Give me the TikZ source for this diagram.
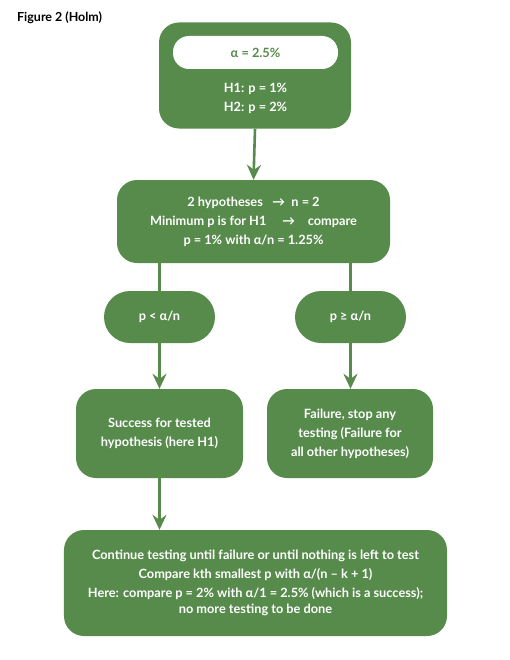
\documentclass[tikz,border=0pt]{standalone}
\usepackage{fontspec}
\setmainfont{Lato}
\usepackage{xcolor}
\usetikzlibrary{positioning, arrows.meta, calc}
\definecolor{holmgreen}{HTML}{578B4C}

\begin{document}
\begin{tikzpicture}[
  x=1bp, y=-1bp,
  greenbox/.style={
    rectangle, fill=holmgreen, draw=none, text=white,
    rounded corners=20bp, align=center, inner sep=0pt,
    font=\fontsize{12.8}{19}\selectfont\bfseries
  },
  pillbox/.style={
    greenbox, rounded corners=26bp
  },
  flow/.style={-{Stealth[length=15bp, width=14bp, inset=5bp]}, holmgreen, line width=2.6bp},
  link/.style={holmgreen, line width=2.6bp},
]
\useasboundingbox (0,0) rectangle (510,660);

%% ── Title ────────────────────────────────────────────────────────────────────
\node[anchor=west, inner sep=0pt, font=\fontsize{12.5}{14}\selectfont\bfseries] (title) at (17, 18) {Figure 2 (Holm)};

%% ── Start box ────────────────────────────────────────────────────────────────
\node[greenbox, minimum width=192bp, minimum height=106bp] (start) at (255, 75.5) {};
\node[rectangle, fill=white, rounded corners=16bp, minimum width=165bp,
      minimum height=33bp, inner sep=0pt, text=holmgreen,
      font=\fontsize{12.8}{19}\selectfont\bfseries] (alpha) at (255.5, 52.5) {α = 2.5\%};
\node[text=white, align=center, font=\fontsize{12.8}{19}\selectfont\bfseries] (hyps) at (255.5, 98) {%
  H1: p = 1\%\\
  H2: p = 2\%
};

%% ── Minimum p ────────────────────────────────────────────────────────────────
\node[greenbox, minimum width=273bp, minimum height=83bp] (minp) at (253.5, 221.5) {%
  2 hypotheses \enspace→\enspace n = 2\\
  Minimum p is for H1 \quad→\quad compare\\
  p = 1\% with α/n = 1.25\%
};

%% ── Decisions ────────────────────────────────────────────────────────────────
\node[pillbox, minimum width=111bp, minimum height=52bp] (lower) at (159.5, 317) {p < α/n};
\node[pillbox, minimum width=111bp, minimum height=52bp] (upper) at (350.5, 317) {p ≥ α/n};

\node[greenbox, minimum width=167bp, minimum height=89bp] (success) at (159.5, 433.5) {%
  Success for tested\\
  hypothesis (here H1)
};
\node[greenbox, minimum width=166bp, minimum height=89bp] (failure) at (350, 433.5) {%
  Failure, stop any\\
  testing (Failure for\\
  all other hypotheses)
};

%% ── Continue box ─────────────────────────────────────────────────────────────
\node[greenbox, minimum width=383bp, minimum height=106bp] (cont) at (255.5, 583) {%
  Continue testing until failure or until nothing is left to test\\
  Compare kth smallest p with α/(n – k + 1)\\
  Here: compare p = 2\% with α/1 = 2.5\% (which is a success);\\[-2pt]
  no more testing to be done
};

%% ── Connectors ───────────────────────────────────────────────────────────────
\draw[flow] (start.south) -- (minp.north);
\draw[link] (minp.south -| lower.north) -- (lower.north);
\draw[link] (minp.south -| upper.north) -- (upper.north);
\draw[flow] (lower.south) -- (success.north);
\draw[flow] (upper.south) -- (failure.north -| upper.south);
\draw[flow] (success.south) -- (cont.north -| success.south);

\end{tikzpicture}
\end{document}
